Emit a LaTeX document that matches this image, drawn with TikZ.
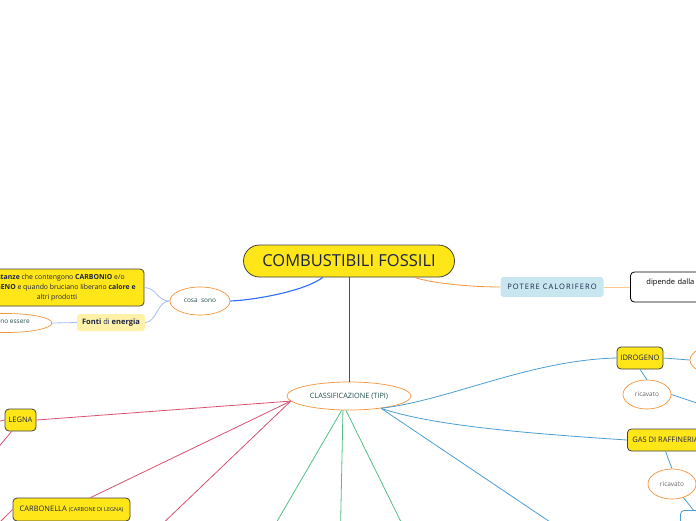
\documentclass[tikz,border=0pt]{standalone}
\usepackage{fontspec}
\setmainfont{Open Sans}
\newfontfamily\spacedfont[LetterSpace=14]{Open Sans}
\usetikzlibrary{shapes.geometric, positioning}

\definecolor{mapyellow}{HTML}{FFE619}
\definecolor{mapnavy}{HTML}{1B2347}
\definecolor{maporange}{HTML}{F5943A}
\definecolor{mapteal}{HTML}{1F4D4A}
\definecolor{mapblue}{HTML}{2F6BFF}
\definecolor{lightblue}{HTML}{A3BDF5}
\definecolor{paleyellow}{HTML}{FFF2A8}
\definecolor{powderblue}{HTML}{C8E6F0}
\definecolor{rosered}{HTML}{D9506E}
\definecolor{mintgreen}{HTML}{4FC184}
\definecolor{skyblue}{HTML}{4A9ED3}
\definecolor{lightorange}{HTML}{FFC98A}

\begin{document}
\begin{tikzpicture}[x=1pt, y=-1pt,
        topic/.style={draw=black!75, fill=mapyellow, rounded corners=4pt,
            line width=0.8pt, text=mapnavy, font=\fontsize{7.5}{10}\selectfont},
        bubble/.style={ellipse, draw=maporange, line width=0.7pt, fill=white,
            text=mapteal, inner sep=0pt, font=\fontsize{6.5}{8}\selectfont},
        link/.style={line width=0.8pt},
    ]
        \useasboundingbox (0,0) rectangle (696,520);
        \clip (0,0) rectangle (696,520);

        % Central topic
        \node[topic, rounded corners=16pt, minimum width=211, minimum height=32,
            font=\fontsize{16.5}{19}\selectfont] (root) at (349,261) {COMBUSTIBILI FOSSILI};

        % Left branch
        \node[bubble, minimum width=60, minimum height=28] (cosa) at (200,301) {cosa\ \ sono};
        \node[topic, minimum width=174, minimum height=37, align=center,
            font=\fontsize{6.9}{10}\selectfont] (sostanze) at (57,287.5)
            {\textbf{Sostanze} che contengono \textbf{CARBONIO} e/o\\
             \textbf{IDROGENO} e quando bruciano liberano \textbf{calore e}\\
             altri prodotti};
        \node[fill=paleyellow, rounded corners=3pt, minimum width=68, minimum height=17,
            text=mapnavy, font=\fontsize{7.5}{10}\selectfont] (fonti) at (111,322.5)
            {\textbf{Fonti} di \textbf{energia}};
        \node[bubble, minimum width=92, minimum height=19] (possono) at (6,323) {possono essere};

        % Right branch
        \node[fill=powderblue, rounded corners=3pt, minimum width=103, minimum height=20,
            text=mapnavy, font=\spacedfont\fontsize{7.5}{9}\selectfont] (potere) at (552,287) {POTERE CALORIFERO};
        \node[draw=black, line width=0.8pt, rounded corners=4pt, fill=white, anchor=west,
            minimum width=140, text height=7pt, text depth=13pt, inner ysep=5pt,
            text width=120, inner xsep=16pt, align=left,
            font=\fontsize{7.5}{10}\selectfont] (dipende) at (630,287) {dipende dalla};

        % Types
        \node[bubble, minimum width=124, minimum height=28,
            font=\fontsize{7.3}{9}\selectfont] (class) at (349,396) {CLASSIFICAZIONE (TIPI)};
        \node[topic, minimum width=31, minimum height=22] (legna) at (20.5,420) {LEGNA};
        \node[topic, minimum width=117, minimum height=23] (carbonella) at (71.5,509.5)
            {CARBONELLA {\fontsize{5.5}{7}\selectfont(CARBONE DI LEGNA)}};
        \node[topic, minimum width=46, minimum height=22] (idrogeno) at (640,358) {IDROGENO};
        \node[bubble, minimum width=60, minimum height=30] (idroext) at (720,360) {};
        \node[bubble, minimum width=48, minimum height=29, text=black!60] (ricavato1) at (647,394.5) {ricavato};
        \node[topic, anchor=west, minimum height=22, inner xsep=5pt] (gas) at (627,440) {GAS DI RAFFINERIA};
        \node[bubble, minimum width=48, minimum height=30, text=black!60] (ricavato2) at (672,484) {ricavato};
        \node[draw=skyblue, line width=0.8pt, rounded corners=4pt, fill=white, anchor=north west,
            minimum width=26, minimum height=30] (gasbox) at (680,510) {};

        % Free ends of cut branches
        \coordinate (redend) at (156,530);
        \coordinate (legnaw) at (-8,423);
        \coordinate (legnas) at (-8,455);
        \coordinate (carbw) at (-4,526);
        \coordinate (greena) at (272,530);
        \coordinate (greenb) at (340.5,530);
        \coordinate (greenc) at (405,530);
        \coordinate (blueend) at (562,530);
        \coordinate (ricend) at (712,408);

        % Connectors
        \draw[link, black!70] (root) -- (class);
        \draw[link, mapblue, line width=1.1pt] (root.212) .. controls (305,291) and (255,300) .. (cosa.east);
        \draw[link, lightblue] (cosa.west) .. controls (157,301) and (157,288) .. (sostanze.east);
        \draw[link, lightblue] (cosa.west) .. controls (157,301) and (157,322) .. (fonti.east);
        \draw[link, lightblue] (fonti.west) -- (possono.east);
        \draw[link, maporange] (root.-14) .. controls (430,283) and (470,287) .. (potere.west);
        \draw[link, lightorange] (potere.east) -- (dipende.west);

        \draw[link, rosered] (class.185) -- (legna.east);
        \draw[link, rosered] (class.185) -- (carbonella.32);
        \draw[link, rosered] (class.185) -- (redend);
        \draw[link, rosered] (legna.west) -- (legnaw);
        \draw[link, rosered] (legna.232) -- (legnas);
        \draw[link, rosered] (carbonella.west) -- (carbw);

        \draw[link, mintgreen] (class.243) -- (greena);
        \draw[link, mintgreen] (class.247) -- (greenb);
        \draw[link, mintgreen] (class.258) -- (greenc);

        \draw[link, skyblue] (class.-21) .. controls (450,400) and (530,360) .. (idrogeno.west);
        \draw[link, skyblue] (class.-21) .. controls (430,425) and (520,433) .. (gas.west);
        \draw[link, skyblue] (class.-21) -- (blueend);
        \draw[link, skyblue] (idrogeno.east) -- (idroext.west);
        \draw[link, skyblue] (idrogeno.south) -- (ricavato1.north);
        \draw[link, skyblue] (ricavato1.east) -- (ricend);
        \draw[link, skyblue] (gas.south) -- (ricavato2.north);
        \draw[link, skyblue] (ricavato2.310) -- (gasbox.north);
    \end{tikzpicture}
\end{document}
